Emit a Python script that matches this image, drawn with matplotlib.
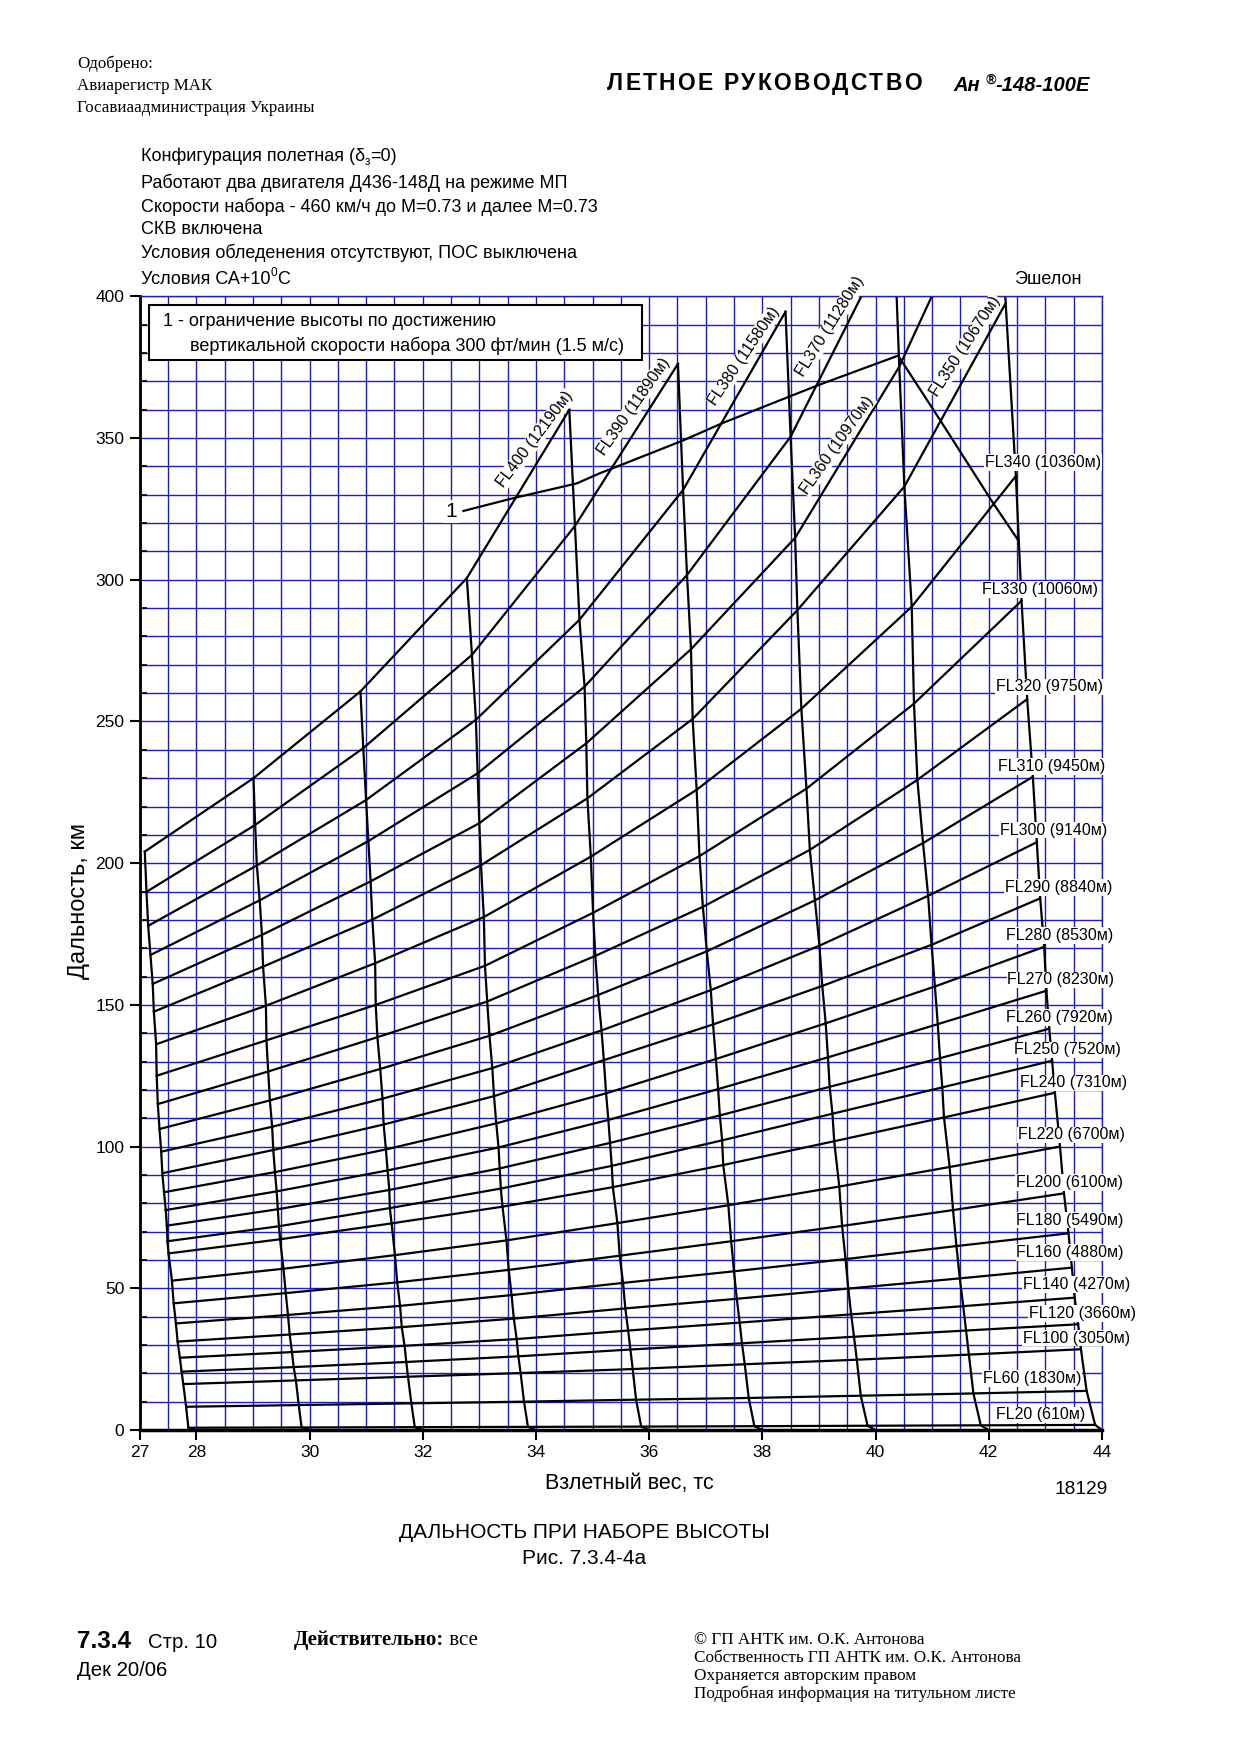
import matplotlib
matplotlib.use("Agg")
import matplotlib.pyplot as plt
from matplotlib.patches import Rectangle

plt.rcParams["font.family"] = ["Liberation Sans", "DejaVu Sans"]

# ---------------------------------------------------------------- data
weights = [28, 30, 32, 34, 36, 38, 40, 42, 44]
fl_levels = [20, 60, 100, 120, 140, 160, 180, 200, 220, 240, 250, 260, 270,
             280, 290, 300, 310, 320, 330, 340, 350, 360, 370, 380, 390, 400]
fl_metres = [610, 1830, 3050, 3660, 4270, 4880, 5490, 6100, 6700, 7310, 7520,
             7920, 8230, 8530, 8840, 9140, 9450, 9750, 10060, 10360, 10670,
             10970, 11280, 11580, 11890, 12190]

# weight (x) where each FL curve meets each take-off-weight curve
cross_x = [
    [27.86, 29.86, 31.86, 33.86, 35.86, 37.86, 39.86, 41.86, 43.88],
    [27.82, 29.81, 31.80, 33.79, 35.77, 37.76, 39.74, 41.73, 43.73],
    [27.77, 29.76, 31.74, 33.73, 35.71, 37.69, 39.67, 41.65, 43.63],
    [27.74, 29.72, 31.71, 33.69, 35.67, 37.64, 39.62, 41.60, 43.58],
    [27.71, 29.69, 31.68, 33.66, 35.63, 37.60, 39.57, 41.55, 43.52],
    [27.67, 29.65, 31.63, 33.61, 35.58, 37.55, 39.52, 41.49, 43.47],
    [27.64, 29.62, 31.60, 33.57, 35.54, 37.50, 39.47, 41.43, 43.41],
    [27.60, 29.58, 31.55, 33.52, 35.48, 37.45, 39.41, 41.37, 43.33],
    [27.57, 29.54, 31.51, 33.48, 35.44, 37.40, 39.36, 41.31, 43.26],
    [27.51, 29.48, 31.45, 33.41, 35.36, 37.31, 39.27, 41.21, 43.17],
    [27.49, 29.46, 31.42, 33.38, 35.34, 37.29, 39.24, 41.18, 43.12],
    [27.48, 29.44, 31.41, 33.36, 35.31, 37.25, 39.19, 41.14, 43.07],
    [27.46, 29.42, 31.38, 33.34, 35.28, 37.22, 39.16, 41.10, 43.02],
    [27.43, 29.39, 31.35, 33.30, 35.24, 37.18, 39.12, 41.05, 42.98],
    [27.40, 29.36, 31.31, 33.26, 35.20, 37.13, 39.06, 40.99, 42.91],
    [27.38, 29.34, 31.29, 33.23, 35.16, 37.09, 39.01, 40.93, 42.85],
    [27.35, 29.30, 31.25, 33.18, 35.10, 37.02, 38.93, 40.84, 42.78],
    [27.32, 29.27, 31.20, 33.14, 35.05, 36.95, 38.84, 40.74, 42.68],
    [27.30, 29.24, 31.17, 33.10, 35.01, 36.89, 38.78, 40.68, 42.58],
    [27.29, 29.23, 31.16, 33.08, 34.97, 36.84, 38.69, 40.64, 42.48],
    [27.25, 29.18, 31.11, 33.03, 34.91, 36.77, 38.62, 40.51, 42.30],
    [27.23, 29.16, 31.08, 33.00, 34.89, 36.74, 38.58, 40.42, 42.15],
    [27.19, 29.12, 31.04, 32.97, 34.86, 36.67, 38.50, 40.33, None],
    [27.15, 29.07, 31.00, 32.94, 34.77, 36.60, 38.41, None, None],
    [27.12, 29.04, 30.95, 32.87, 34.69, 36.51, None, None, None],
    [27.09, 29.01, 30.90, 32.78, 34.59, None, None, None, None],
]
# distance (km) at the same crossings
cross_d = [
    [0.8, 0.9, 1.0, 1.1, 1.2, 1.35, 1.5, 1.65, 1.8],
    [8.2, 8.8, 9.4, 10.0, 10.7, 11.3, 12.1, 12.9, 13.8],
    [16.2, 17.5, 18.8, 20.1, 21.5, 23.2, 24.8, 26.6, 28.5],
    [20.6, 22.2, 24.0, 26.0, 28.4, 30.6, 32.9, 35.1, 37.3],
    [25.5, 27.5, 29.7, 32.1, 35.1, 37.9, 40.8, 43.7, 46.7],
    [31.2, 33.7, 36.3, 39.3, 42.9, 46.3, 49.9, 53.5, 57.3],
    [37.6, 40.6, 43.8, 47.6, 51.9, 56.0, 60.3, 64.9, 69.4],
    [44.7, 48.3, 52.1, 56.5, 61.5, 66.6, 72.0, 77.6, 83.5],
    [52.7, 56.9, 61.7, 66.9, 73.0, 79.3, 85.9, 92.8, 100.0],
    [62.3, 67.3, 72.9, 78.8, 85.7, 93.5, 101.9, 110.3, 119.0],
    [66.6, 71.9, 78.3, 85.2, 93.2, 102.2, 111.6, 120.9, 130.3],
    [72.1, 77.9, 84.7, 92.3, 101.3, 111.0, 121.1, 131.2, 141.6],
    [77.6, 84.2, 91.6, 99.7, 109.4, 120.3, 131.5, 143.2, 155.0],
    [83.9, 91.0, 99.0, 108.2, 118.8, 130.9, 143.5, 156.5, 170.5],
    [90.6, 98.8, 107.8, 117.8, 130.5, 143.1, 156.7, 171.2, 187.6],
    [98.2, 107.0, 116.9, 127.7, 141.0, 155.2, 170.9, 188.5, 207.4],
    [106.2, 116.3, 127.4, 139.1, 153.5, 168.9, 186.9, 207.1, 230.5],
    [115.0, 126.5, 138.6, 151.2, 167.3, 184.6, 204.7, 229.4, 257.9],
    [125.0, 137.5, 150.0, 163.8, 182.5, 202.5, 226.3, 256.3, 292.6],
    [136.1, 149.7, 164.7, 181.0, 202.3, 225.9, 254.5, 290.5, 336.6],
    [147.6, 163.5, 180.1, 199.3, 222.9, 250.9, 289.3, 332.9, 397.6],
    [157.4, 174.7, 193.6, 214.1, 242.3, 275.5, 314.8, 375.2, 450.0],
    [167.6, 186.9, 207.8, 231.7, 262.3, 301.7, 350.5, 423.0, None],
    [177.9, 199.2, 222.3, 250.6, 285.9, 331.7, 394.6, None, None],
    [189.9, 213.5, 240.6, 273.5, 319.0, 376.2, None, None, None],
    [204.1, 230.0, 260.6, 300.6, 360.0, None, None, None, None],
]

# limit line "1" (vertical speed 300 ft/min)
limit_x = [32.72, 33.60, 34.72, 35.13, 35.40, 36.58, 37.31, 38.99, 40.40,
           41.14, 42.08, 42.52]
limit_d = [324.3, 328.8, 334.0, 337.6, 339.7, 349.0, 355.4, 368.7, 379.1,
           356.4, 327.0, 314.0]

# labels at the right side: FL, left x, centre y
right_lab_fl = [340, 330, 320, 310, 300, 290, 280, 270, 260, 250, 240, 220,
                200, 180, 160, 140, 120, 100, 60, 20]
right_lab_x = [41.93, 41.89, 42.13, 42.17, 42.20, 42.28, 42.31, 42.33, 42.31,
               42.45, 42.56, 42.52, 42.48, 42.48, 42.49, 42.60, 42.71, 42.60,
               41.90, 42.13]
right_lab_y = [341.3, 296.6, 262.2, 234.1, 211.7, 191.5, 174.4, 158.8, 145.6,
               134.1, 122.5, 104.1, 87.3, 74.1, 62.7, 51.4, 41.2, 32.4, 18.2,
               5.3]
# slanted labels: FL, centre x, centre y, angle
slant_lab_fl = [400, 390, 380, 370, 360, 350]
slant_lab_x = [33.98, 35.73, 37.68, 39.20, 39.32, 41.59]
slant_lab_y = [349.5, 361.1, 379.1, 389.3, 347.6, 382.5]
slant_lab_a = [53, 55, 56, 58, 55, 57]

x_ticks = [27, 28, 30, 32, 34, 36, 38, 40, 42, 44]
y_ticks = [0, 50, 100, 150, 200, 250, 300, 350, 400]

# ---------------------------------------------------------------- figure
W_PX, H_PX = 1240, 1755
fig = plt.figure(figsize=(12.4, 17.55), dpi=100)
ax = fig.add_axes([139.7 / W_PX, 1 - 1430 / H_PX,
                   (1101.9 - 139.7) / W_PX, (1430 - 296.4) / H_PX])

BLUE = "#1e1ec0"
ax.set_xlim(27, 44)
ax.set_ylim(0, 400)
ax.set_xticks(x_ticks)
ax.set_xticklabels([str(v) for v in x_ticks], fontsize=12.5)
ax.set_xticks([27 + 0.5 * i for i in range(35)], minor=True)
ax.set_yticks(y_ticks)
ax.set_yticklabels([str(v) for v in y_ticks], fontsize=12.5)
ax.set_yticks(list(range(0, 401, 10)), minor=True)
ax.grid(True, which="both", color=BLUE, lw=1.0, zorder=0)
ax.set_axisbelow(True)
ax.tick_params(axis="x", which="major", direction="out", length=7, width=1.5,
               pad=4)
ax.tick_params(axis="x", which="minor", length=0)
ax.tick_params(axis="y", which="major", direction="out", length=7, width=1.5,
               pad=4)
ax.tick_params(axis="y", which="minor", direction="in", length=5, width=1.2)
for s in ("top", "right"):
    ax.spines[s].set_color(BLUE)
    ax.spines[s].set_linewidth(1.0)
ax.spines["left"].set_linewidth(2.0)
ax.spines["bottom"].set_linewidth(2.5)

LW = 1.6
# FL curves
for row_x, row_d in zip(cross_x, cross_d):
    xs = [x for x in row_x if x is not None]
    ds = [d for d in row_d if d is not None]
    ax.plot(xs, ds, color="black", lw=LW, solid_joinstyle="round", zorder=2)
# take-off weight curves
for j, w in enumerate(weights):
    xs = [w]
    ds = [0.0]
    for row_x, row_d in zip(cross_x, cross_d):
        if row_x[j] is not None:
            xs.append(row_x[j])
            ds.append(row_d[j])
    ax.plot(xs, ds, color="black", lw=LW, solid_joinstyle="round", zorder=2)

# limit line
ax.plot(limit_x, limit_d, color="black", lw=LW, zorder=2)
ax.text(32.50, 324.1, "1", fontsize=15, ha="center", va="center", zorder=4,
        bbox=dict(facecolor="white", edgecolor="none", pad=1.5))

# legend box
ax.add_patch(Rectangle((27.17, 377.6), 35.87 - 27.17, 396.9 - 377.6,
                       facecolor="white", edgecolor="black", lw=1.5, zorder=5))
ax.text(27.42, 391.0, "1 - ограничение высоты по достижению", fontsize=13,
        ha="left", va="center", zorder=6)
ax.text(27.89, 382.7, "вертикальной скорости набора 300 фт/мин (1.5 м/с)",
        fontsize=13, ha="left", va="center", zorder=6)

# FL labels
mlookup = dict(zip(fl_levels, fl_metres))
for fl, x, y in zip(right_lab_fl, right_lab_x, right_lab_y):
    ax.text(x, y, f"FL{fl} ({mlookup[fl]}м)", fontsize=11.5, ha="left",
            va="center", zorder=4, clip_on=False,
            bbox=dict(facecolor="white", edgecolor="none", pad=0.6))
for fl, x, y, a in zip(slant_lab_fl, slant_lab_x, slant_lab_y, slant_lab_a):
    ax.text(x, y, f"FL{fl} ({mlookup[fl]}м)", fontsize=11.5, ha="center",
            va="center", rotation=a, rotation_mode="anchor", zorder=4,
            clip_on=False,
            bbox=dict(facecolor="white", edgecolor="none", pad=0.6))


# ---------------------------------------------------------------- page text
def ftext(xp, yp, s, **kw):
    return fig.text(xp / W_PX, 1 - yp / H_PX, s, **kw)


renderer = fig.canvas.get_renderer()


def seq_text(xp, yp, parts, gap=0.0):
    cur = xp
    for s, kw, dy in parts:
        t = ftext(cur, yp + dy, s, ha="left", va="baseline", **kw)
        cur += t.get_window_extent(renderer).width + gap


SERIF = ["Liberation Serif", "DejaVu Serif"]
for yy, s in zip([64, 86, 108], ["Одобрено:", "Авиарегистр МАК",
                                 "Госавиаадминистрация Украины"]):
    ftext(77, yy, s, fontsize=12.2, family=SERIF, ha="left", va="center")

head = "ЛЕТНОЕ РУКОВОДСТВО"
seq_text(607, 90, [(ch, dict(fontsize=16.5, weight="bold"), 0)
                   for ch in head], gap=2.2)
seq_text(953, 91, [("Ан ", dict(fontsize=14.5, weight="bold", style="italic"), 0),
                   ("®", dict(fontsize=10, weight="bold", style="italic"), -7),
                   ("-148-100Е", dict(fontsize=14.5, weight="bold",
                                      style="italic"), 0)])

seq_text(141, 161, [("Конфигурация полетная (δ", dict(fontsize=13), 0),
                    ("з", dict(fontsize=8.5), 4),
                    ("=0)", dict(fontsize=13), 0)])
ftext(141, 183, "Работают два двигателя Д436-148Д на режиме МП",
      fontsize=13, ha="left", va="center")
ftext(141, 206.5, "Скорости набора - 460 км/ч до М=0.73 и далее М=0.73",
      fontsize=13, ha="left", va="center")
ftext(141, 229, "СКВ включена", fontsize=13, ha="left", va="center")
ftext(141, 252.5, "Условия обледенения отсутствуют, ПОС выключена",
      fontsize=13, ha="left", va="center")
seq_text(141, 283.5, [("Условия СА+10", dict(fontsize=13), 0),
                      ("0", dict(fontsize=8.5), -7),
                      ("С", dict(fontsize=13), 0)])
ftext(1048, 279, "Эшелон", fontsize=13, ha="center", va="center")

ftext(78.5, 901, "Дальность, км", fontsize=17, rotation=90, ha="center",
      va="center")
ftext(629, 1484, "Взлетный вес, тс", fontsize=15.5, ha="center", va="center")
ftext(1081, 1490, "18129", fontsize=13.8, ha="center", va="center")
ftext(584, 1533, "ДАЛЬНОСТЬ ПРИ НАБОРЕ ВЫСОТЫ", fontsize=15, ha="center",
      va="center")
ftext(584, 1558, "Рис. 7.3.4-4а", fontsize=15, ha="center", va="center")

ftext(77, 1642, "7.3.4", fontsize=17.5, weight="bold", ha="left", va="center")
ftext(148, 1643, "Стр. 10", fontsize=14.7, ha="left", va="center")
ftext(77, 1671, "Дек 20/06", fontsize=14.7, ha="left", va="center")
seq_text(294, 1645, [("Действительно:", dict(fontsize=15, weight="bold",
                                             family=SERIF), 0),
                     (" все", dict(fontsize=15, family=SERIF), 0)])
for yy, s in zip([1640, 1658, 1676, 1694],
                 ["© ГП АНТК им. О.К. Антонова",
                  "Собственность ГП АНТК им. О.К. Антонова",
                  "Охраняется авторским правом",
                  "Подробная информация на титульном листе"]):
    ftext(694, yy, s, fontsize=12.3, family=SERIF, ha="left", va="center")

fig.savefig("out.png", dpi=100)
